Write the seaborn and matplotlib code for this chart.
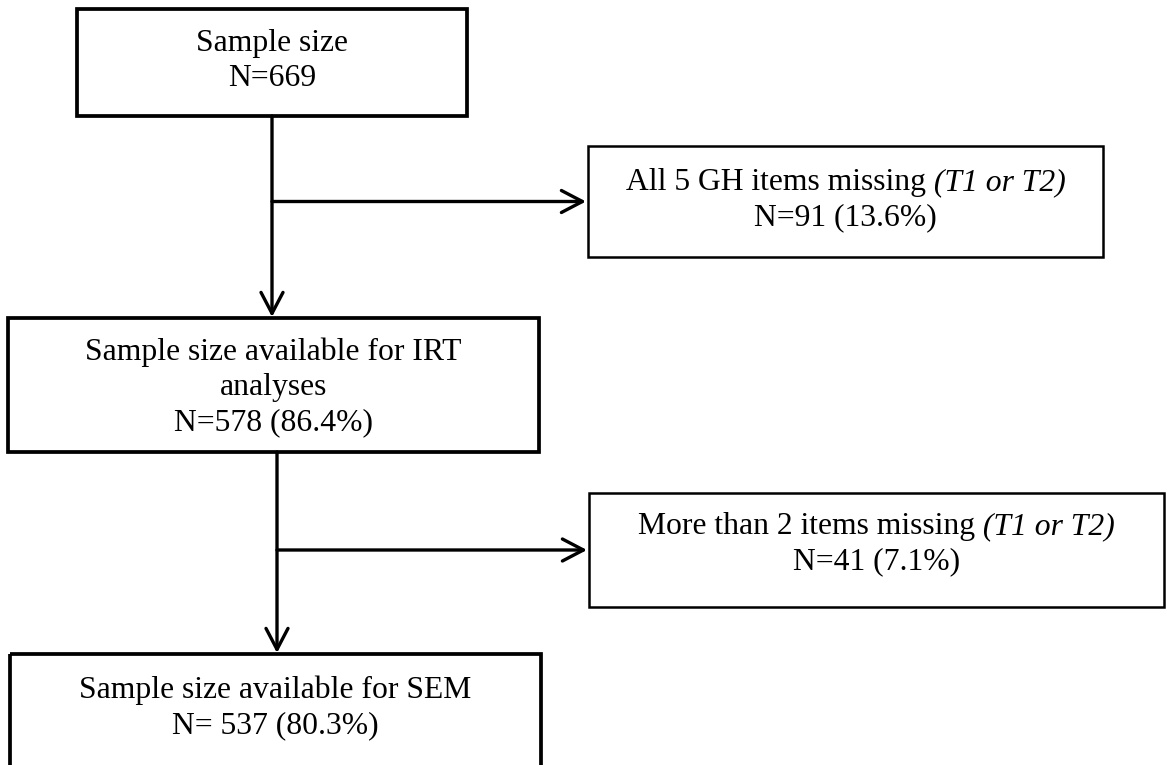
import matplotlib
matplotlib.use("Agg")
import matplotlib.pyplot as plt
from matplotlib.patches import Rectangle
import seaborn as sns

# Flow of participants
stage_labels = ["Sample size", "Sample size available for IRT\nanalyses", "Sample size available for SEM"]
stage_n = [669, 578, 537]
stage_pct = [None, 86.4, 80.3]

excl_labels = ["All 5 GH items missing", "More than 2 items missing"]
excl_note = "(T1 or T2)"
excl_n = [91, 41]
excl_pct = [13.6, 7.1]

sns.set_style("white")
plt.rcParams["font.family"] = ["Liberation Serif", "DejaVu Serif"]

W, H = 1167, 765
fig = plt.figure(figsize=(W / 100, H / 100), dpi=100)
ax = fig.add_axes([0, 0, 1, 1])
ax.set_xlim(0, W)
ax.set_ylim(H, 0)
ax.axis("off")

FS = 22.8
LINE = 35

# layout: (x0, y0, x1, y1), first text line y
main_boxes = [(77, 9, 467, 116, 40), (8, 318, 539, 452, 349), (10, 654, 541, 820, 687)]
side_boxes = [(588, 146, 1103, 257, 179), (589, 493, 1164, 607, 523)]
stems_x = [272, 277]

renderer = fig.canvas.get_renderer()


def box(x0, y0, x1, y1, lw):
    ax.add_patch(Rectangle((x0, y0), x1 - x0, y1 - y0, fill=False, ec="black", lw=lw))


def lines(xc, y, texts):
    for i, t in enumerate(texts):
        ax.text(xc, y + i * LINE, t, ha="center", va="center_baseline", fontsize=FS, color="black")


def mixed(xc, y, parts):
    # parts: list of (text, style), laid side by side and centred on xc
    objs = [ax.text(0, y, t, ha="left", va="center_baseline", fontsize=FS, style=s, color="black")
            for t, s in parts]
    inv = ax.transData.inverted()
    widths = []
    for o in objs:
        bb = o.get_window_extent(renderer)
        x0 = inv.transform((bb.x0, bb.y0))[0]
        x1 = inv.transform((bb.x1, bb.y0))[0]
        widths.append(x1 - x0)
    x = xc - sum(widths) / 2
    for o, w in zip(objs, widths):
        o.set_x(x)
        x += w


def arrow(p0, p1):
    ax.annotate("", xy=p1, xytext=p0,
                arrowprops=dict(arrowstyle="->,head_length=0.42,head_width=0.22", lw=2.4,
                                color="black", mutation_scale=36, shrinkA=0, shrinkB=0))


for i, (x0, y0, x1, y1, ty) in enumerate(main_boxes):
    box(x0, y0, x1, y1, 2.7)
    txt = stage_labels[i].split("\n")
    if stage_pct[i] is None:
        txt.append(f"N={stage_n[i]}")
    elif i == 2:
        txt.append(f"N= {stage_n[i]} ({stage_pct[i]:.1f}%)")
    else:
        txt.append(f"N={stage_n[i]} ({stage_pct[i]:.1f}%)")
    lines((x0 + x1) / 2, ty, txt)

for i, (x0, y0, x1, y1, ty) in enumerate(side_boxes):
    box(x0, y0, x1, y1, 1.8)
    xc = (x0 + x1) / 2
    mixed(xc, ty, [(excl_labels[i], "normal"), (" " + excl_note, "italic")])
    lines(xc, ty + LINE, [f"N={excl_n[i]} ({excl_pct[i]:.1f}%)"])

# connectors
for i, sx in enumerate(stems_x):
    top = main_boxes[i][3]
    nxt = main_boxes[i + 1][1]
    arrow((sx, top), (sx, nxt - 1))
    sb = side_boxes[i]
    ym = (sb[1] + sb[3]) / 2
    arrow((sx, ym), (sb[0] - 2, ym))

fig.savefig("out.png", dpi=100)
